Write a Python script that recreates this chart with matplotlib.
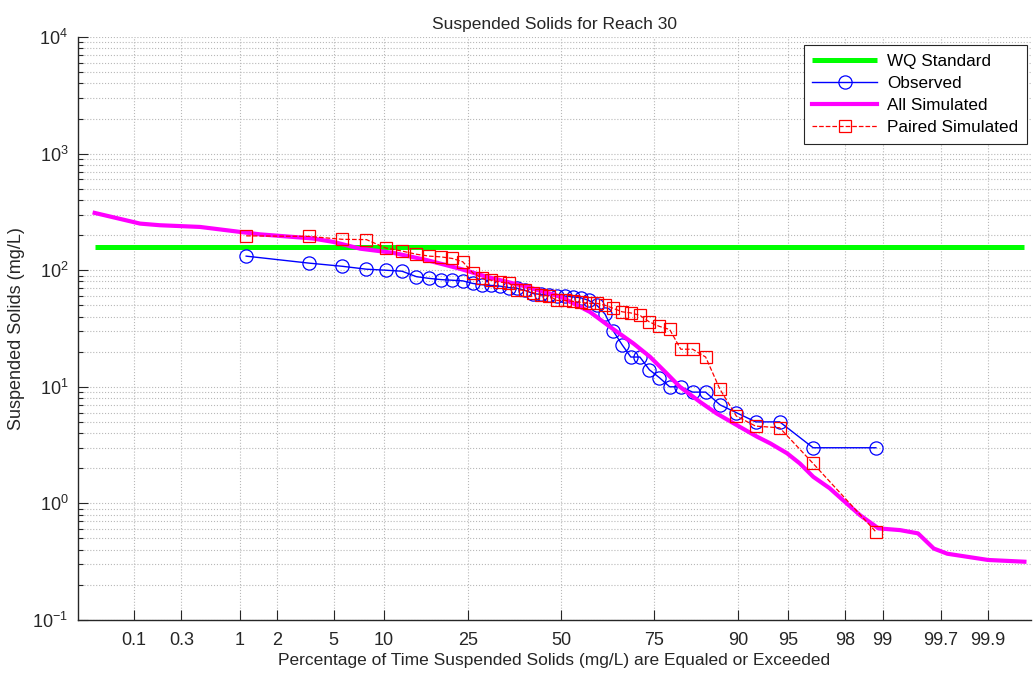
#!/usr/bin/env python3
"""Flow-duration style probability plot of suspended solids."""
from statistics import NormalDist

import matplotlib
matplotlib.use("Agg")
import matplotlib.pyplot as plt
import numpy as np
from matplotlib.ticker import FixedLocator, NullLocator, LogLocator

plt.rcParams["font.family"] = ["Liberation Sans", "DejaVu Sans"]
plt.rcParams["mathtext.fontset"] = "custom"
plt.rcParams["mathtext.rm"] = "Liberation Sans"
plt.rcParams["mathtext.it"] = "Liberation Sans"

# WQ standard (mg/L)
wq_standard = 158

# Observed / paired simulated share the same plotting positions (percent)
paired_pct = [1.136, 3.409, 5.682, 7.955, 10.227, 12.5, 14.773, 17.045, 19.318,
              21.591, 23.864, 26.136, 28.409, 30.682, 32.955, 35.227, 37.5,
              39.773, 42.045, 44.318, 46.591, 48.864, 51.136, 53.409, 55.682,
              57.955, 60.227, 62.5, 64.773, 67.045, 69.318, 71.591, 73.864,
              76.136, 78.409, 80.682, 82.955, 85.227, 87.5, 89.773, 92.045,
              94.318, 96.591, 98.864]
observed = [132, 115, 108, 102, 100, 98, 88, 85, 83, 82, 81, 77, 75, 74, 73,
            71, 70, 67, 63, 62, 61, 60, 60, 59, 58, 55, 50, 42, 30, 23, 18, 18,
            14, 12, 10, 10, 9, 9, 7, 6, 5, 5, 3, 3]
paired_sim = [197, 195, 184, 183, 155, 146, 137, 132, 130, 126, 118, 95, 85, 82,
              79, 78, 68, 67, 64, 61, 60, 55, 55, 54, 53, 52, 52, 50, 47, 44, 43,
              41, 36, 33, 31, 21, 21, 18, 9.5, 5.6, 4.6, 4.45, 2.2, 0.57]

# All simulated duration curve
sim_pct = [0.037, 0.116, 0.185, 0.45, 1.01, 1.47, 3.63, 4.95, 7.3, 11.2, 16.6,
           23.2, 29.6, 40.3, 50.0, 58.3, 63.9, 70.0, 74.0, 77.8, 80.5, 84.3,
           87.0, 89.8, 92.2, 93.5, 94.9, 95.8, 96.6, 97.4, 98.06, 98.48, 98.92,
           99.29, 99.51, 99.65, 99.74, 99.90, 99.96]
sim_val = [310, 251, 243, 235, 213, 203, 187, 175, 153, 141, 122, 103, 87.7, 72,
           59, 43.8, 32.6, 23.5, 18.1, 13, 10, 7.4, 5.9, 4.7, 3.73, 3.27, 2.69,
           2.2, 1.69, 1.35, 1.0, 0.79, 0.61, 0.59, 0.553, 0.41, 0.37, 0.327,
           0.316]

x_ticks = [0.1, 0.3, 1, 2, 5, 10, 25, 50, 75, 90, 95, 98, 99, 99.7, 99.9]
x_tick_labels = ["0.1", "0.3", "1", "2", "5", "10", "25", "50", "75", "90",
                 "95", "98", "99", "99.7", "99.9"]

ND = NormalDist()
_ppf = np.vectorize(ND.inv_cdf, otypes=[float])
_cdf = np.vectorize(ND.cdf, otypes=[float])


def to_z(p):
    p = np.clip(np.asarray(p, dtype=float) / 100.0, 1e-12, 1 - 1e-12)
    return _ppf(p)


def from_z(z):
    return _cdf(np.asarray(z, dtype=float)) * 100.0


fig = plt.figure(figsize=(10.33, 6.73), dpi=100)
ax = fig.add_axes([0.0755, 0.0788, 0.9225, 0.8662])
ax.set_xscale("function", functions=(to_z, from_z))
ax.set_yscale("log")

ax.plot([sim_pct[0], sim_pct[-1]], [wq_standard, wq_standard], color="#00ff00",
        lw=3.6, label="WQ Standard", solid_capstyle="butt")
ax.plot(paired_pct, observed, color="#0000ff", lw=1.0, marker="o", ms=9.5,
        mfc="none", mec="#0000ff", mew=0.9, label="Observed")
ax.plot(sim_pct, sim_val, color="#ff00ff", lw=3.0, label="All Simulated")
ax.plot(paired_pct, paired_sim, color="#ff0000", lw=0.9, ls="--", marker="s",
        ms=8.5, mfc="none", mec="#ff0000", mew=0.9, label="Paired Simulated")

ax.set_xlim(from_z(-3.495), from_z(3.40))
ax.set_ylim(0.1, 1e4)
ax.xaxis.set_major_locator(FixedLocator(x_ticks))
ax.xaxis.set_minor_locator(NullLocator())
ax.set_xticklabels(x_tick_labels)
ax.yaxis.set_major_locator(LogLocator(base=10, numticks=10))
ax.yaxis.set_minor_locator(LogLocator(base=10, subs=np.arange(2, 10), numticks=50))

for s in ["top", "right"]:
    ax.spines[s].set_visible(False)
for s in ["left", "bottom"]:
    ax.spines[s].set_color("#262626")
    ax.spines[s].set_linewidth(1.0)
ax.tick_params(which="both", direction="in", colors="#262626", labelsize=13)
ax.tick_params(which="major", length=7, width=0.8, pad=7)
ax.tick_params(which="minor", length=3.5, width=0.8)
ax.tick_params(axis="x", which="major", pad=8.5)

ax.grid(True, which="major", ls=":", color="#b8b8b8", lw=0.8)
ax.grid(True, which="minor", axis="y", ls=":", color="#b8b8b8", lw=0.8)

ax.set_title("Suspended Solids for Reach 30", fontsize=12.5, color="#262626", pad=6)
ax.set_xlabel("Percentage of Time Suspended Solids (mg/L) are Equaled or Exceeded",
              fontsize=12.5, color="#262626", labelpad=3)
ax.set_ylabel("Suspended Solids (mg/L)", fontsize=13, color="#262626", labelpad=5)

leg = ax.legend(loc="upper right", bbox_to_anchor=(0.9958, 0.9863), borderaxespad=0,
                fontsize=12.3, fancybox=False, framealpha=1, edgecolor="#262626",
                handlelength=3.8, handletextpad=0.6, borderpad=0.5,
                labelspacing=0.42)
leg.get_frame().set_linewidth(0.8)

fig.savefig("out.png", dpi=100)
